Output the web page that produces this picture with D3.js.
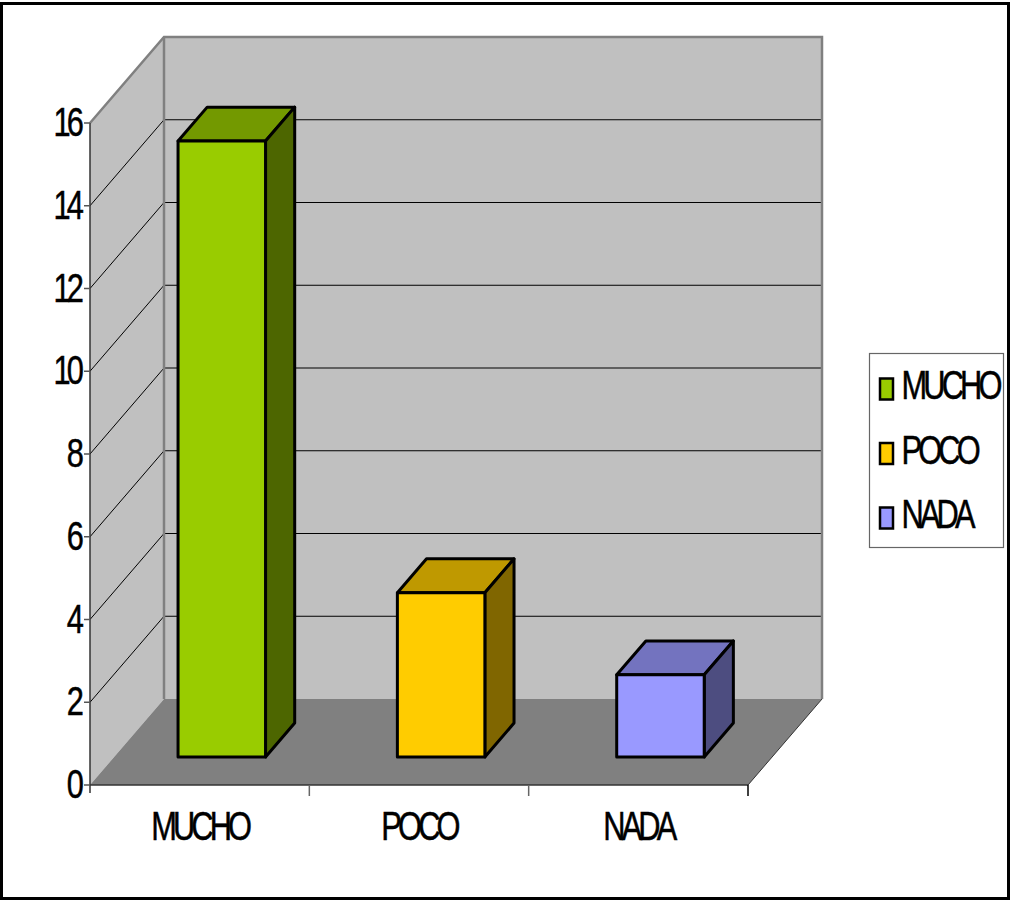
<!DOCTYPE html>
<html><head><meta charset="utf-8">
<script src="https://cdnjs.cloudflare.com/ajax/libs/d3/7.8.5/d3.min.js"></script>
<style>html,body{margin:0;padding:0;background:#fff}svg{display:block}text{font-family:"Liberation Sans",Arial,sans-serif;fill:#000;stroke:#000;stroke-width:0.5px}</style>
</head><body><svg id="c" width="1011" height="900"></svg>
<script>
const categories=["MUCHO","POCO","NADA"];
const values=[15,4,2];
const frontColors=["#99CC00","#FFCC00","#9999FF"];
const topColors=["#739900","#BF9900","#7373BF"];
const sideColors=["#4D6600","#806600","#4D4D80"];
const yTicks=[0,2,4,6,8,10,12,14,16];

const svg=d3.select("#c");
const x=d3.scaleBand().domain(categories).range([90,748]);
const y=d3.scaleLinear().domain([0,16]).range([785,123]);
const barH=d3.scaleLinear().domain([0,16]).range([0,657]);
const DX=74,DY=-86;
const near=0.326,far=0.72;
const barW=87.5;
const poly=(pts,fill,stroke,sw)=>svg.append("polygon").attr("points",pts.map(p=>p.join(",")).join(" "))
  .attr("fill",fill).attr("stroke",stroke||"none").attr("stroke-width",sw||0).attr("stroke-linejoin","round");
const line=(a,b,c,sw)=>svg.append("line").attr("x1",a[0]).attr("y1",a[1]).attr("x2",b[0]).attr("y2",b[1]).attr("stroke",c).attr("stroke-width",sw);
const label=(t,px,py,anchor)=>svg.append("text").attr("transform",`translate(${px},${py}) scale(0.77,1)`)
  .attr("text-anchor",anchor).attr("font-size",40).attr("letter-spacing",-5).text(t);

svg.append("rect").attr("x",1.5).attr("y",3.5).attr("width",1007).attr("height",895).attr("fill","#fff").attr("stroke","#000").attr("stroke-width",3);

const x0=x.range()[0],x1=x.range()[1],y0=y(0),yT=y(16);
poly([[x0+DX,yT+DY],[x1+DX,yT+DY],[x1+DX,y0+DY],[x0+DX,y0+DY]],"#C0C0C0");
poly([[x0,yT],[x0+DX,yT+DY],[x0+DX,y0+DY],[x0,y0]],"#C0C0C0");
poly([[x0,y0],[x0+DX,y0+DY],[x1+DX,y0+DY],[x1,y0]],"#808080");
yTicks.slice(1).forEach(t=>{
  if(t<16){
    line([x0,y(t)],[x0+DX,y(t)+DY],"#000",1);
    line([x0+DX,y(t)+DY],[x1+DX,y(t)+DY],"#000",1);
  }
});
svg.append("path").attr("d",`M${x0},${yT}L${x0+DX},${yT+DY}L${x1+DX},${yT+DY}L${x1+DX},${y0+DY}`).attr("fill","none").attr("stroke","#808080").attr("stroke-width",2.5);
line([x0+DX,yT+DY],[x0+DX,y0+DY],"#808080",2.5);
line([x1+DX,y0+DY],[x1,y0],"#333",1);
line([x0,yT],[x0,y0+8],"#333",1.5);
line([x0,y0],[x1,y0],"#333",1.5);
yTicks.forEach(t=>{
  line([x0-6,y(t)],[x0,y(t)],"#555",1.5);
  label(t,80,y(t)+13,"end");
});
categories.forEach((c,i)=>line([x(c)+x.bandwidth(),y0],[x(c)+x.bandwidth(),y0+11],i==2?"#000":"#666",1.5));
categories.forEach(c=>label(c,x(c)+x.bandwidth()/2,840,"middle"));
categories.forEach((c,i)=>{
  const cx=x(c)+x.bandwidth()/2;
  const l=cx-barW/2+near*DX-2, r=l+barW;
  const b=y0+near*DY, t=b-barH(values[i]);
  const dx=(far-near)*DX, dy=(far-near)*DY;
  poly([[l,t],[l+dx,t+dy],[r+dx,t+dy],[r,t]],topColors[i],"#000",3);
  poly([[r,t],[r+dx,t+dy],[r+dx,b+dy],[r,b]],sideColors[i],"#000",3);
  poly([[l,t],[r,t],[r,b],[l,b]],frontColors[i],"#000",3);
});
svg.append("rect").attr("x",869.5).attr("y",353.5).attr("width",134).attr("height",194).attr("fill","#fff").attr("stroke","#666").attr("stroke-width",1.2);
const legY=d3.scalePoint().domain(categories).range([389,518]);
categories.forEach((c,i)=>{
  svg.append("rect").attr("x",880).attr("y",legY(c)-10.5).attr("width",13).attr("height",21).attr("fill",frontColors[i]).attr("stroke","#000").attr("stroke-width",2.5);
  label(c,901.5,legY(c)+10,"start");
});
</script></body></html>
